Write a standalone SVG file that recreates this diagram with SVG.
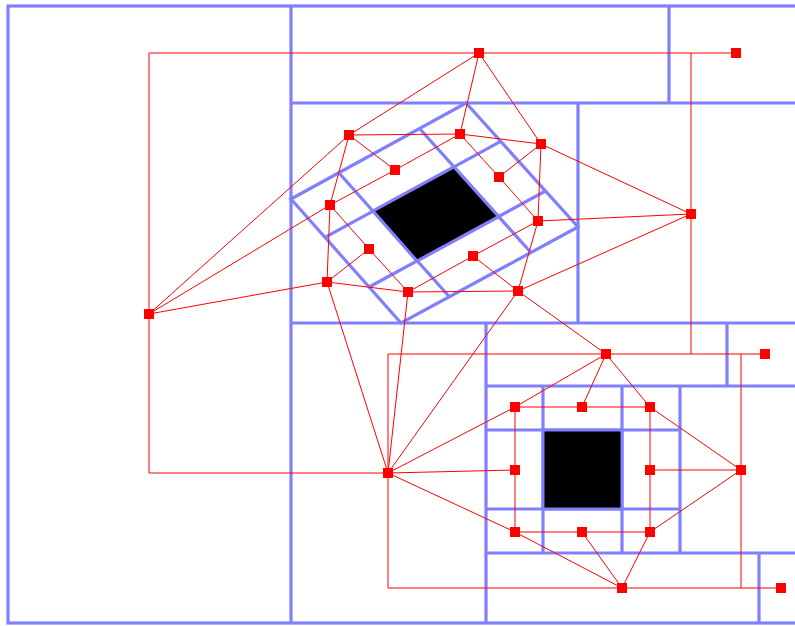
<svg xmlns="http://www.w3.org/2000/svg" width="795" height="626" viewBox="0 0 795 626">
<style>
.wall{fill:none;stroke:#8080ff;stroke-width:3.2;stroke-linejoin:miter}
.core{fill:#000;stroke:#8080ff;stroke-width:3}
.edge{fill:none;stroke:#ff0000;stroke-width:1}
.node{fill:#ff0000}
</style>
<rect width="795" height="626" fill="#fff"/>
<g id="structure">
<rect class="wall" x="8" y="6" width="800" height="617"/>
<path class="wall" d="M291 6V623 M669 6V103 M291 103H800 M578 103V323 M291 323H800 M486 323V623 M727 323V386 M486 386H800 M680 386V553 M486 553H800 M759 553V623"/>
<path class="wall" d="M486 430H680 M486 509H680 M543 386V553 M622 386V553"/>
<rect class="core" x="543" y="430" width="79" height="79"/>
<path class="wall" d="M291 199L466 103L578 227L401 323Z"/>
<path class="wall" d="M325 237.4L500.7 141.4 M369.1 287L545.5 191 M338.8 172.8L449.3 296.8 M419.5 128.5L530.9 252.5"/>
<path class="core" d="M373 211L454 167L498.5 216.5L417 261Z"/>
</g>
<g id="connectors">
<path class="edge" d="M149 53H736 M149 53V473H388 M691 53V354 M388 354H765 M388 354V588H781 M741 354V588"/>
<path class="edge" d="M479 53L349 135 M479 53L460 134 M479 53L541 144
M149 314L349 135 M149 314L330 205 M149 314L327 282
M691 214L541 144 M691 214L538 221 M691 214L518 291
M349 135L460 134 M460 134L541 144 M349 135L395 170 M395 170L460 134 M460 134L499 177 M499 177L541 144
M349 135L330 205 M330 205L395 170 M330 205L327 282 M330 205L369 249 M369 249L327 282 M369 249L408 292
M327 282L408 292 M408 292L473 256 M408 292L518 291 M473 256L538 221 M473 256L518 291 M538 221L518 291
M541 144L538 221 M499 177L538 221
M388 473L327 282 M388 473L408 292 M388 473L518 291 M388 473L515 407 M388 473L515 470 M388 473L515 532
M606 354L518 291 M606 354L515 407 M606 354L582 407 M606 354L650 407
M515 407H650 M515 407V532 M650 407V532 M515 532H650
M741 470L650 407 M741 470L650 470 M741 470L650 532
M622 588L515 532 M622 588L582 532 M622 588L650 532"/>
</g>
<g id="n_top"><rect class="node" x="474" y="48" width="10" height="10"/></g>
<g id="n_tr"><rect class="node" x="731" y="48" width="10" height="10"/></g>
<g id="n_left"><rect class="node" x="144" y="309" width="10" height="10"/></g>
<g id="n_right"><rect class="node" x="686" y="209" width="10" height="10"/></g>
<g id="u1"><rect class="node" x="344" y="130" width="10" height="10"/></g>
<g id="u2"><rect class="node" x="455" y="129" width="10" height="10"/></g>
<g id="u3"><rect class="node" x="536" y="139" width="10" height="10"/></g>
<g id="u4"><rect class="node" x="390" y="165" width="10" height="10"/></g>
<g id="u5"><rect class="node" x="494" y="172" width="10" height="10"/></g>
<g id="u6"><rect class="node" x="325" y="200" width="10" height="10"/></g>
<g id="u7"><rect class="node" x="533" y="216" width="10" height="10"/></g>
<g id="u8"><rect class="node" x="364" y="244" width="10" height="10"/></g>
<g id="u9"><rect class="node" x="468" y="251" width="10" height="10"/></g>
<g id="u10"><rect class="node" x="322" y="277" width="10" height="10"/></g>
<g id="u11"><rect class="node" x="403" y="287" width="10" height="10"/></g>
<g id="u12"><rect class="node" x="513" y="286" width="10" height="10"/></g>
<g id="n_mid"><rect class="node" x="601" y="349" width="10" height="10"/></g>
<g id="n_mr"><rect class="node" x="760" y="349" width="10" height="10"/></g>
<g id="l1"><rect class="node" x="510" y="402" width="10" height="10"/></g>
<g id="l2"><rect class="node" x="577" y="402" width="10" height="10"/></g>
<g id="l3"><rect class="node" x="645" y="402" width="10" height="10"/></g>
<g id="n_s"><rect class="node" x="383" y="468" width="10" height="10"/></g>
<g id="l4"><rect class="node" x="510" y="465" width="10" height="10"/></g>
<g id="l5"><rect class="node" x="645" y="465" width="10" height="10"/></g>
<g id="n_e"><rect class="node" x="736" y="465" width="10" height="10"/></g>
<g id="l6"><rect class="node" x="510" y="527" width="10" height="10"/></g>
<g id="l7"><rect class="node" x="577" y="527" width="10" height="10"/></g>
<g id="l8"><rect class="node" x="645" y="527" width="10" height="10"/></g>
<g id="n_bot"><rect class="node" x="617" y="583" width="10" height="10"/></g>
<g id="n_br"><rect class="node" x="776" y="583" width="10" height="10"/></g>
</svg>
